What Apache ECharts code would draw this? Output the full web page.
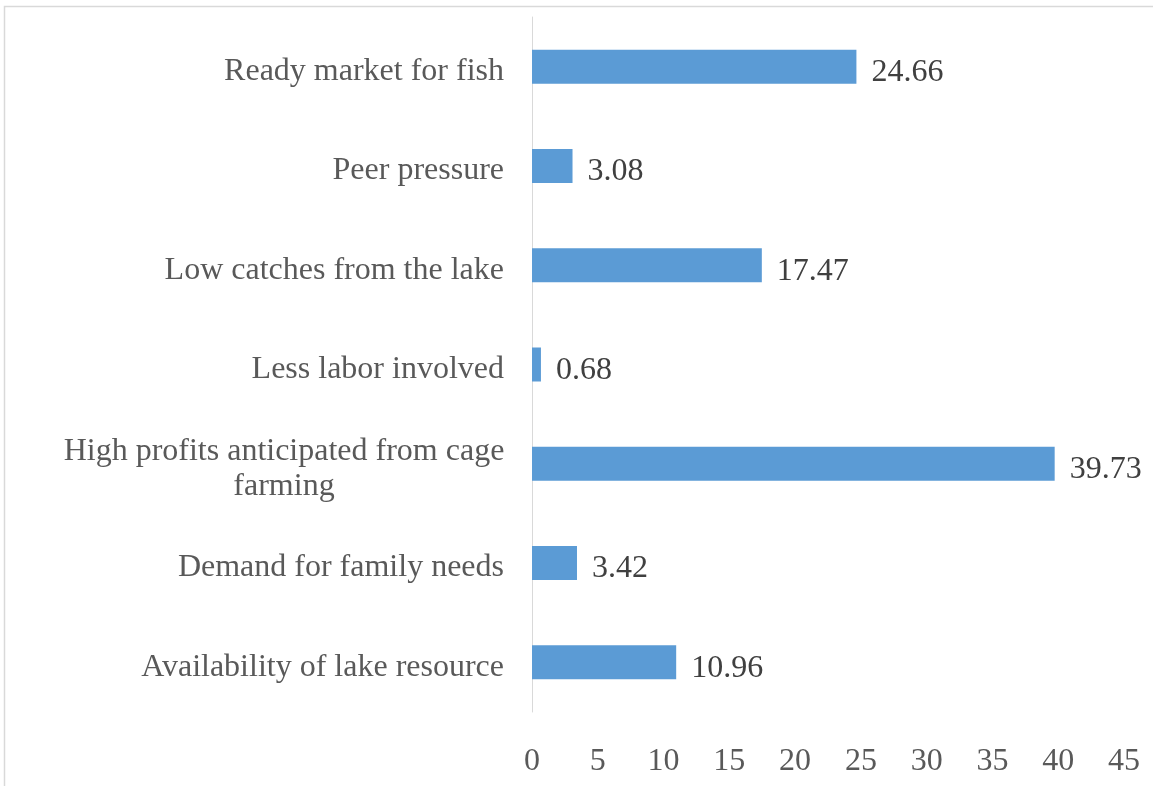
<!DOCTYPE html>
<html>
<head>
<meta charset="utf-8">
<script src="https://cdn.jsdelivr.net/npm/echarts@6/dist/echarts.min.js"></script>
<style>
html,body{margin:0;padding:0;background:#fff;}
#chart{width:1153px;height:786px;}
</style>
</head>
<body>
<div id="chart"></div>
<script>
const categories = [
  'Availability of lake resource',
  'Demand for family needs',
  'High profits anticipated from cage farming',
  'Less labor involved',
  'Low catches from the lake',
  'Peer pressure',
  'Ready market for fish'
];
const values = [10.96, 3.42, 39.73, 0.68, 17.47, 3.08, 24.66];
const xTicks = [0, 5, 10, 15, 20, 25, 30, 35, 40, 45];

const FONT = '"Liberation Serif", "Times New Roman", serif';
const chart = echarts.init(document.getElementById('chart'));
chart.setOption({
  animation: false,
  graphic: [{
    type: 'rect',
    shape: {x: 4.5, y: 6.5, width: 1300, height: 1000},
    style: {fill: 'none', stroke: '#d9d9d9', lineWidth: 1.5},
    silent: true
  }],
  grid: {left: 532, right: 29, top: 17, bottom: 74, containLabel: false},
  xAxis: {
    type: 'value',
    min: xTicks[0],
    max: xTicks[xTicks.length - 1],
    interval: 5,
    axisLine: {show: false},
    axisTick: {show: false},
    splitLine: {show: false},
    axisLabel: {
      color: '#595959', fontFamily: FONT, fontSize: 32, margin: 34
    }
  },
  yAxis: {
    type: 'category',
    data: categories,
    axisLine: {show: true, lineStyle: {color: '#d9d9d9', width: 1}},
    axisTick: {show: false},
    splitLine: {show: false},
    axisLabel: {
      color: '#595959', fontFamily: FONT, fontSize: 32, margin: 28,
      padding: [10, 0, 0, 0],
      formatter: function (v) {
        if (v.length > 35) {
          const i = v.lastIndexOf(' ');
          return '{c|' + v.slice(0, i) + '}\n{c|' + v.slice(i + 1) + '}';
        }
        return v;
      },
      rich: {
        c: {width: 440, align: 'center', fontSize: 32, lineHeight: 35, color: '#595959', fontFamily: FONT}
      }
    }
  },
  series: [{
    type: 'bar',
    data: values,
    barWidth: 34,
    itemStyle: {color: '#5b9bd5'},
    label: {
      show: true, position: 'right', distance: 15,
      color: '#404040', fontFamily: FONT, fontSize: 32,
      offset: [0, 6],
      formatter: p => p.value.toFixed(2)
    }
  }]
});
</script>
</body>
</html>
